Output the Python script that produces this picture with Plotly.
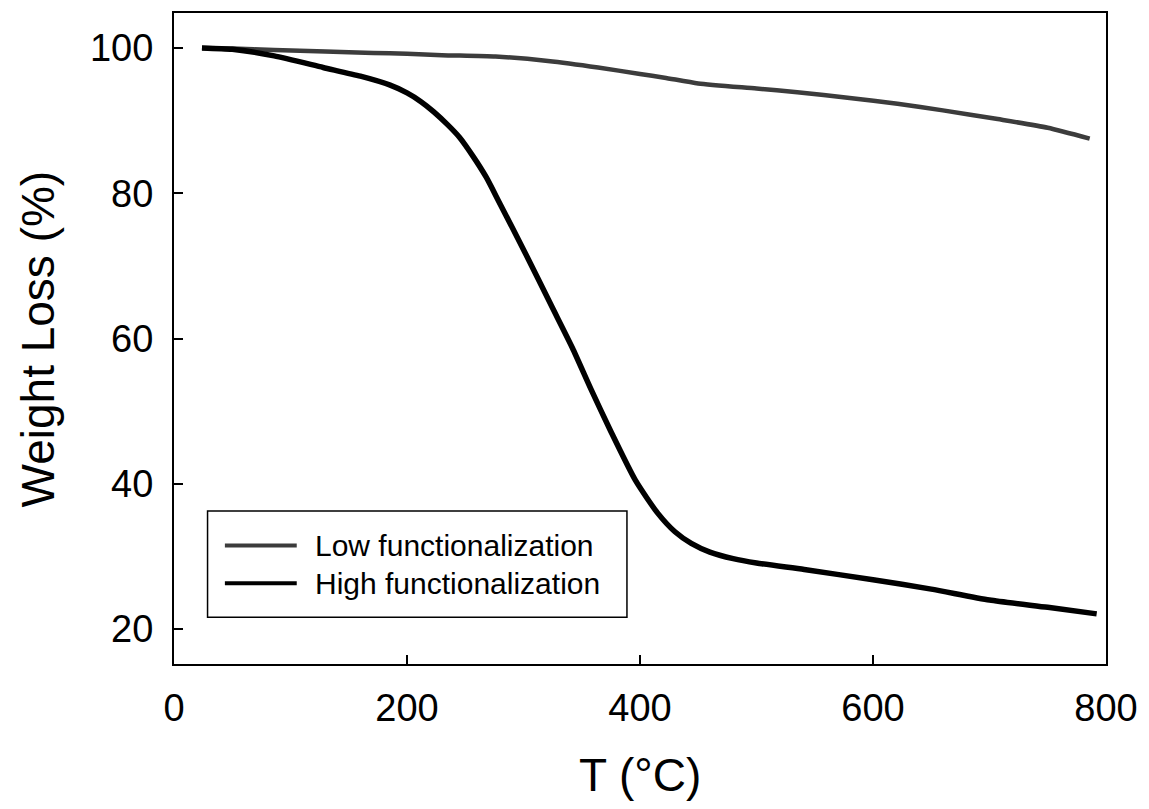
import plotly.graph_objects as go

# Thermogravimetric curves: temperature (°C) vs remaining weight (%)
temp_low = [24, 50, 86, 130, 171, 200, 230, 276, 321, 364, 400, 421, 450,
            500, 535, 580, 621, 660, 707, 750, 786]
weight_low = [100.0, 99.9, 99.7, 99.5, 99.3, 99.2, 99.0, 98.8, 98.2, 97.3,
              96.4, 95.9, 95.1, 94.4, 93.9, 93.1, 92.3, 91.4, 90.2, 89.0, 87.5]

temp_high = [24, 50, 86, 128, 160, 185, 200, 212, 223, 235, 245, 257, 268,
             279, 302, 324, 342, 358, 375, 396, 415, 430, 444, 460, 480, 500,
             541, 600, 650, 700, 750, 792]
weight_high = [100.0, 99.8, 98.9, 97.3, 96.1, 94.9, 93.8, 92.6, 91.2, 89.4,
               87.7, 85.0, 82.2, 78.8, 71.6, 64.5, 58.7, 53.0, 47.2, 40.5,
               36.0, 33.4, 31.8, 30.6, 29.7, 29.1, 28.2, 26.8, 25.5, 24.0,
               23.0, 22.1]

series_names = ["Low functionalization", "High functionalization"]
series_colors = ["#3c3c3c", "#000000"]

x_ticks = [0, 200, 400, 600, 800]
y_ticks = [20, 40, 60, 80, 100]

FONT = "Liberation Sans, Arial, sans-serif"

fig = go.Figure()
fig.add_trace(go.Scatter(x=temp_low, y=weight_low, mode="lines",
                         name=series_names[0],
                         line=dict(color=series_colors[0], width=4.5,
                                   shape="spline", smoothing=0.6),
                         showlegend=False))
fig.add_trace(go.Scatter(x=temp_high, y=weight_high, mode="lines",
                         name=series_names[1],
                         line=dict(color=series_colors[1], width=5.5,
                                   shape="spline", smoothing=0.6),
                         showlegend=False))

axis_common = dict(
    showgrid=False, zeroline=False,
    showline=True, linecolor="black", linewidth=2, mirror=True,
    ticks="inside", ticklen=9, tickwidth=1.5, tickcolor="black",
    tickfont=dict(family=FONT, size=38, color="black"),
)
fig.update_xaxes(range=[0, 800], tickvals=x_ticks, ticklabelstandoff=9,
                 **axis_common)
fig.update_yaxes(range=[15.2, 104.8], tickvals=y_ticks, ticklabelstandoff=11,
                 **axis_common)

# Axis titles
fig.add_annotation(text="T (°C)", xref="paper", yref="paper", x=0.5, y=-0.17,
                   xanchor="center", yanchor="middle", showarrow=False,
                   font=dict(family=FONT, size=46, color="black"))
fig.add_annotation(text="Weight Loss (%)", xref="paper", yref="paper",
                   x=-0.146, y=0.5, textangle=-90,
                   xanchor="center", yanchor="middle", showarrow=False,
                   font=dict(family=FONT, size=46, color="black"))

# Legend box with line samples
fig.add_shape(type="rect", xref="paper", yref="paper",
              x0=0.036, x1=0.486, y0=0.072, y1=0.235,
              line=dict(color="black", width=1.5), fillcolor="white",
              layer="above")
legend_rows_y = [0.182, 0.124]
for name, color, ry in zip(series_names, series_colors, legend_rows_y):
    fig.add_shape(type="line", xref="paper", yref="paper",
                  x0=0.0546, x1=0.1317, y0=ry, y1=ry,
                  line=dict(color=color, width=4), layer="above")
    fig.add_annotation(text=name, xref="paper", yref="paper",
                       x=0.149, y=ry, xanchor="left", yanchor="middle",
                       showarrow=False,
                       font=dict(family=FONT, size=30, color="black"))

fig.update_layout(
    width=1149, height=809, autosize=False,
    margin=dict(l=174, r=41, t=11, b=145),
    plot_bgcolor="white", paper_bgcolor="white",
    font=dict(family=FONT, color="black"),
)

fig.write_html("out.html")
